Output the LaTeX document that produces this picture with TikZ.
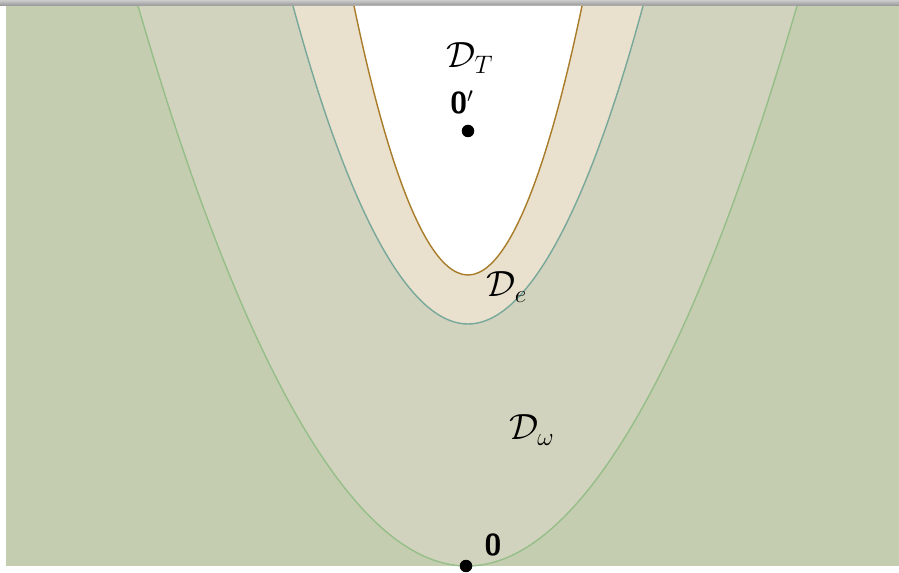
\documentclass[tikz,border=0pt]{standalone}
\usepackage{amsmath, amssymb}
\usetikzlibrary{positioning}
\definecolor{FieldGreen}{RGB}{197, 205, 177}
\definecolor{OmegaFill}{RGB}{210, 211, 190}
\definecolor{EdgeFill}{RGB}{233, 224, 206}
\definecolor{OmegaLine}{RGB}{150, 190, 136}
\definecolor{EdgeLine}{RGB}{120, 168, 154}
\definecolor{CoreLine}{RGB}{168, 124, 40}

\begin{document}
\begin{tikzpicture}[x=0.02cm, y=-0.02cm,
    dot/.style={circle, fill=black, inner sep=0pt, minimum size=0.25cm},
    region/.style={font=\huge},
    pointlabel/.style={font=\LARGE\sffamily\bfseries}]
    \useasboundingbox (0,0) rectangle (899,573);
    % frame
    \shade[top color=gray!40, bottom color=gray!85] (0,0) rectangle (899,6);
    \fill[FieldGreen] (6,6) rectangle (899,566);

    % D_omega
    \filldraw[fill=OmegaFill, draw=OmegaLine, line width=0.8pt]
      (138,6) parabola bend (467,566) (797,6);
    % D_e
    \filldraw[fill=EdgeFill, draw=EdgeLine, line width=0.8pt]
      (293,6) parabola bend (468,324) (643,6);
    % D_T
    \filldraw[fill=white, draw=CoreLine, line width=0.8pt]
      (354,6) parabola bend (468,275) (582,6);

    % labels
    \node[region] (DT) at (470,58) {$\mathcal{D}_T$};
    \node[region] (De) at (507,287) {$\mathcal{D}_e$};
    \node[region] (Dw) at (532,430) {$\mathcal{D}_\omega$};

    % points
    \node[dot] (top) at (468,131) {};
    \node[pointlabel] (toplabel) at (462,102) {0$'$};
    \node[dot] (origin) at (466,566) {};
    \node[pointlabel] (originlabel) at (493,545) {0};
\end{tikzpicture}
\end{document}
